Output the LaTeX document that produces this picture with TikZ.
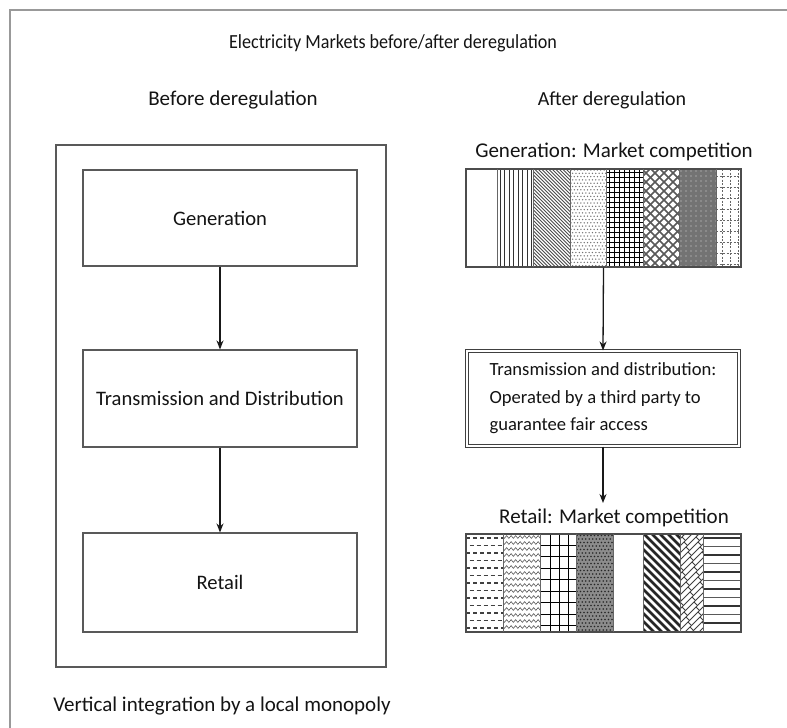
\documentclass[tikz,border=0pt]{standalone}
\usepackage{fontspec}
\setmainfont{Carlito}
\usetikzlibrary{arrows.meta,decorations.pathmorphing}
\begin{document}
\begin{tikzpicture}[x=1pt,y=-1pt,
  lbl/.style={font=\fontsize{21}{25}\selectfont, text=black!92, inner sep=0pt},
  big/.style={font=\fontsize{21}{25}\selectfont, text=black!92, inner sep=0pt},
  box/.style={draw=black!65, line width=1.1pt, minimum width=274pt, inner sep=0pt, font=\fontsize{20.6}{24}\selectfont, text=black!92},
  arr/.style={-{Stealth[length=9pt,width=7pt]}, line width=1.3pt, black!90},
  strip/.style={draw=black!70, line width=1.1pt, minimum width=275pt, minimum height=98pt, inner sep=0pt},
  divider/.style={draw=black!60, line width=0.8pt}
]
\fill[white] (0,0) rectangle (787,728);
\useasboundingbox (0,0) rectangle (787,728);
\draw[black!40, line width=1.6pt] (10,728) -- (10,10) -- (787,10);

% ---------- left ----------
\node[lbl, font=\fontsize{20}{24}\selectfont] (title) at (393,43) {\scalebox{0.905}[1]{Electricity Markets before/after deregulation}};
\node[lbl] (before) at (233,100) {Before deregulation};
\node[lbl, font=\fontsize{20}{24}\selectfont] (after) at (612,100) {After deregulation};
\node[draw=black!65, line width=1.1pt, minimum width=330pt, minimum height=522pt, inner sep=0pt] (outer) at (221,406) {};
\node[box, minimum height=96pt] (gen) at (220,218) {Generation};
\node[box, minimum height=97pt] (td) at (220,398.5) {Transmission and Distribution};
\node[box, minimum height=99pt] (ret) at (220,582.5) {Retail};
\draw[arr] (gen) -- (td);
\draw[arr] (td) -- (ret);
\node[lbl] (vert) at (222,706) {Vertical integration by a local monopoly};

% ---------- right: generation strips ----------
\node[big] (genh) at (614,152) {Generation: Market competition};
% 2 vertical lines
\begin{scope}\clip (497,169) rectangle (533,267);
\foreach \x in {500,504.5,...,533} \draw[line width=0.7pt, black!80] (\x,169) -- (\x,267);
\end{scope}
% 3 NW lines
\begin{scope}\clip (533,169) rectangle (570,267);
\foreach \x in {433,436.5,...,572} \draw[line width=0.75pt, black!70] (\x,169) -- ++(100,100);
\end{scope}
% 4 dots
\begin{scope}\clip (570,169) rectangle (606,267);
\foreach \i in {0,...,11} \foreach \j in {0,...,30} \fill[black!55] ({571+3.3*\i+1.65*mod(\j,2)}, {170+3.3*\j}) circle (0.75pt);
\end{scope}
% 5 grid
\begin{scope}\clip (606,169) rectangle (643,267);
\foreach \x in {609,614,...,643} \draw[line width=0.8pt] (\x,169) -- (\x,267);
\foreach \y in {172,177,...,267} \draw[line width=1pt] (606,\y) -- (643,\y);
\end{scope}
% 6 diamond crosshatch
\begin{scope}\clip (643,169) rectangle (679,267);
\foreach \x in {543,552,...,690} {\draw[line width=1.5pt, black!65] (\x,169) -- ++(100,100);
  \draw[line width=1.5pt, black!65] (\x,267) -- ++(100,-100);}
\end{scope}
% 7 dark with light dots
\begin{scope}\clip (679,169) rectangle (716,267);
\fill[black!55] (679,169) rectangle (716,267);
\foreach \i in {0,...,7} \foreach \j in {0,...,19} \fill[black!15] ({681+5*\i}, {171+5*\j}) circle (0.6pt);
\end{scope}
% 8 dashed grid
\begin{scope}\clip (716,169) rectangle (741,267);
\foreach \x in {722,730,738} \draw[dash pattern=on 2pt off 1.5pt, black!60, line width=0.6pt] (\x,169) -- (\x,267);
\foreach \y in {176,187,...,267} \draw[dash pattern=on 2pt off 1.5pt, black!60, line width=0.6pt] (716,\y) -- (741,\y);
\end{scope}
\node[strip] (gs) at (603.5,218) {};
\foreach \x in {497,533,570,606,643,679,716} \draw[divider] (\x,169) -- (\x,267);

% ---------- right: T&D ----------
\node[draw=black!75, line width=1.1pt, double=white, double distance=2.2pt, minimum width=272pt, minimum height=95pt,
  align=left, font=\fontsize{18.6}{27.5}\selectfont, text=black!92, inner sep=0pt] (tdr) at (603,398.5)
  {Transmission and distribution:\\Operated by a third party to\\guarantee fair access};
\draw[arr] (gs.south) -- (tdr.north);
\coordinate (rtip) at (603,503);
\draw[arr] (tdr.south) -- (rtip);

% ---------- right: retail strips ----------
\node[big] (reth) at (614,518) {Retail: Market competition};
% 1 dashes
\begin{scope}\clip (466,534) rectangle (503,632);
\foreach \y in {538,553,...,632} \draw[line width=1.3pt, black!75, dash pattern=on 4pt off 3pt] (466,\y) -- (503,\y);
\foreach \y in {545.5,560.5,...,632} \draw[line width=1.3pt, black!75, dash pattern=on 4pt off 3pt] (469.5,\y) -- (503,\y);
\end{scope}
% 2 zigzag
\begin{scope}\clip (503,534) rectangle (540,632);
\foreach \y in {537,543,...,632} \draw[black!65, line width=0.6pt, decorate, decoration={zigzag, segment length=4.5pt, amplitude=1.4pt}] (501,\y) -- (542,\y);
\end{scope}
% 3 grid
\begin{scope}\clip (540,534) rectangle (576,632);
\foreach \x in {550,559,568} \draw[line width=1pt] (\x,534) -- (\x,632);
\foreach \y in {545,556.5,...,632} \draw[line width=1pt] (540,\y) -- (576,\y);
\end{scope}
% 4 dark dots
\begin{scope}\clip (576,534) rectangle (613,632);
\fill[black!45] (576,534) rectangle (613,632);
\foreach \i in {0,...,10} \foreach \j in {0,...,28} \fill[black!85] ({577+3.5*\i+1.75*mod(\j,2)}, {535.5+3.5*\j}) circle (0.9pt);
\end{scope}
% 6 thick diagonal
\begin{scope}\clip (643,534) rectangle (680,632);
\foreach \x in {540,548,...,690} \draw[line width=2.8pt, black!85] (\x,534) -- ++(100,100);
\end{scope}
% 7 diagonal bricks
\begin{scope}\clip (680,534) rectangle (703,632);
\foreach \k in {0,...,18} {
  \pgfmathsetmacro\xk{580+7*\k}
  \draw[line width=0.9pt, black!75] (\xk,632) -- ++(100,-100);
  \foreach \m in {0,...,10} {
    \pgfmathsetmacro\tt{10*\m+5*mod(\k,2)}
    \draw[line width=0.9pt, black!75] ({\xk+\tt},{632-\tt}) -- ++(3.5,3.5);
  }
}
\end{scope}
% 8 horizontal lines
\begin{scope}\clip (703,534) rectangle (741,632);
\foreach \y in {538,555,...,632} \draw[line width=1.5pt, black!80] (703,\y) -- (741,\y);
\foreach \y in {546.5,563.5,...,632} \draw[line width=0.9pt, black!65] (703,\y) -- (741,\y);
\end{scope}
\node[strip] (rs) at (603.5,583) {};
\foreach \x in {503,540,576,613,643,680,703} \draw[divider] (\x,534) -- (\x,632);
\end{tikzpicture}
\end{document}
